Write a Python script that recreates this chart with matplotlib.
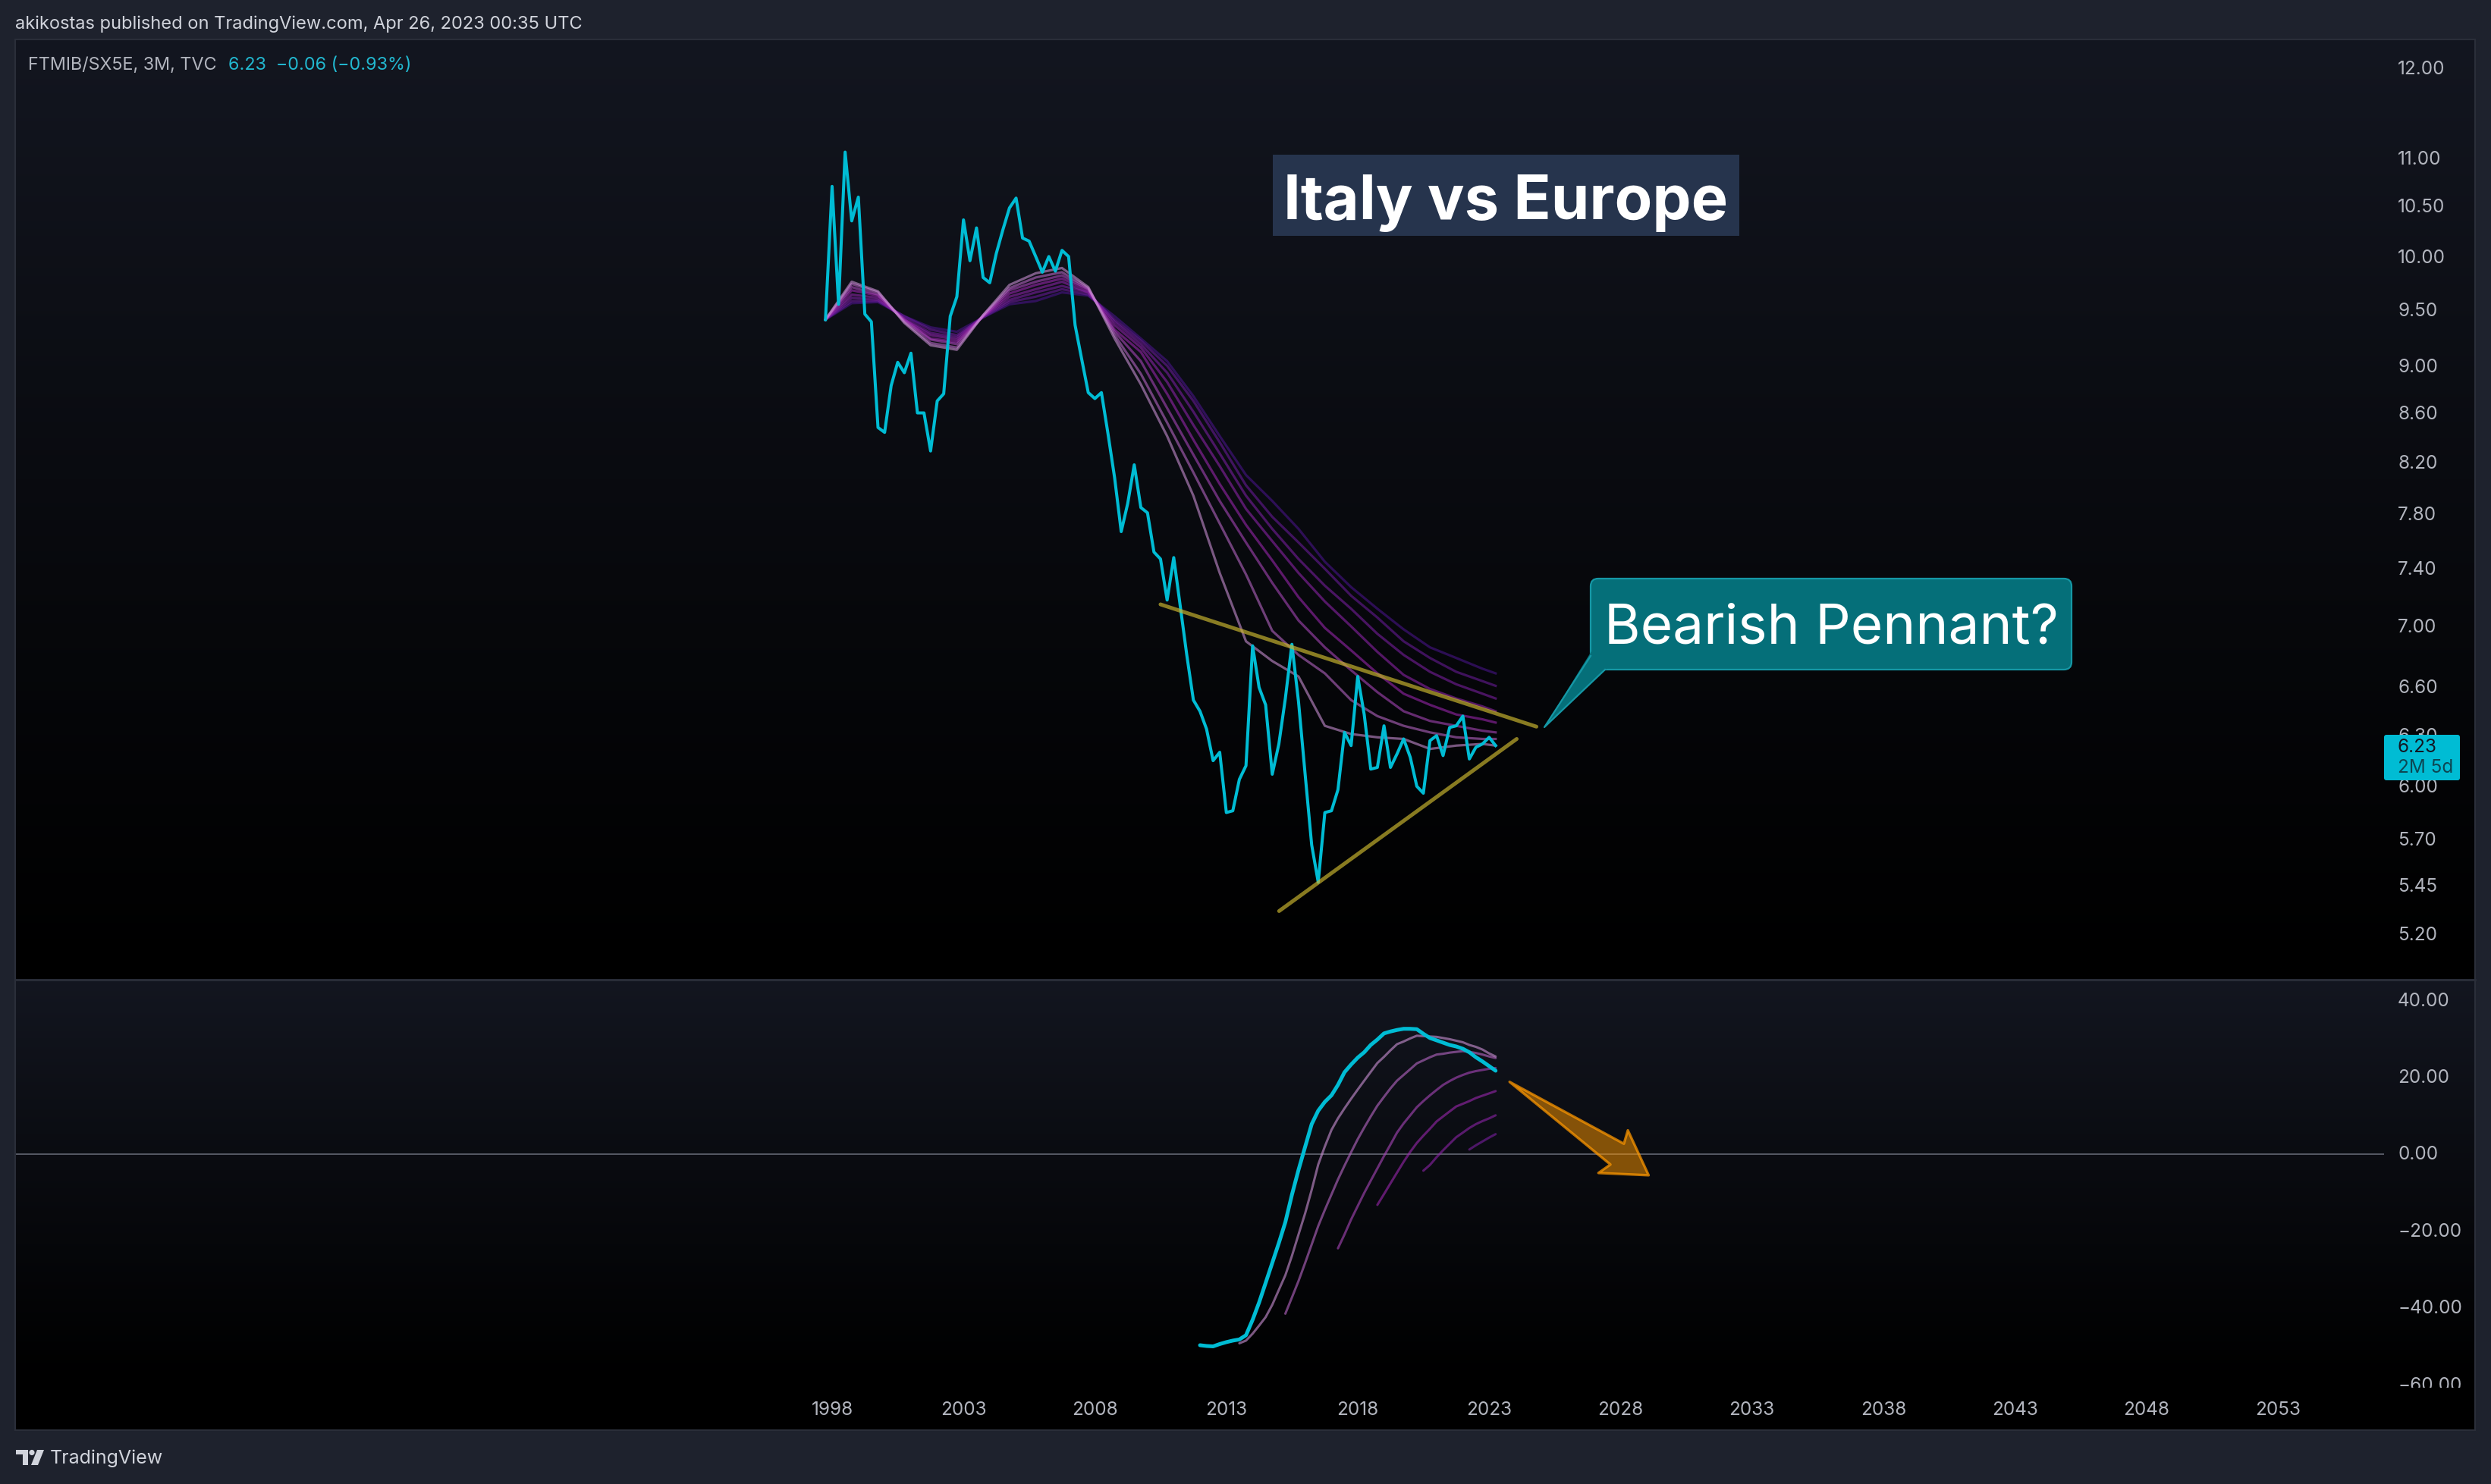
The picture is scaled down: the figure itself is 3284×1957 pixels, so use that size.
import numpy as np
import pandas as pd
import matplotlib
matplotlib.use("Agg")
import matplotlib.pyplot as plt
from matplotlib.patches import Polygon, FancyBboxPatch, Rectangle, Circle
from matplotlib.transforms import Bbox, TransformedBbox, blended_transform_factory
from matplotlib.ticker import FixedLocator, NullLocator, FuncFormatter
import matplotlib.dates as mdates

plt.rcParams['font.family'] = ['Inter', 'DejaVu Sans']

# ---------------- data ----------------
quarters = pd.date_range("1997-10-01", "2023-04-01", freq="QS")

ratio_close = [9.40, 10.69, 9.54, 11.05, 10.34, 10.58, 9.45, 9.38, 8.47, 8.43,
               8.82, 9.02, 8.93, 9.10, 8.59, 8.59, 8.28, 8.69, 8.75, 9.43,
               9.61, 10.35, 9.95, 10.27, 9.79, 9.74, 10.02, 10.25, 10.47, 10.57,
               10.17, 10.14, 9.99, 9.84, 9.99, 9.85, 10.05, 9.99, 9.35, 9.05,
               8.76, 8.71, 8.76, 8.42, 8.07, 7.66, 7.87, 8.17, 7.84, 7.80,
               7.51, 7.46, 7.17, 7.47, 7.13, 6.80, 6.51, 6.44, 6.33, 6.14,
               6.19, 5.84, 5.85, 6.03, 6.11, 6.86, 6.59, 6.48, 6.06, 6.24,
               6.52, 6.87, 6.50, 6.06, 5.66, 5.46, 5.84, 5.85, 5.97, 6.31,
               6.23, 6.66, 6.42, 6.09, 6.10, 6.35, 6.10, 6.18, 6.27, 6.16,
               5.99, 5.95, 6.26, 6.29, 6.17, 6.34, 6.35, 6.41, 6.15, 6.22,
               6.24, 6.28, 6.23]

# ribbon samples (quarter index into `quarters`)
ribbon_pos = [0, 4, 8, 12, 16, 20, 24, 28, 32, 36, 40, 44, 48, 52, 56, 60, 64,
              68, 72, 76, 80, 84, 88, 92, 96, 100, 102]
ribbon_1 = [9.40, 9.75, 9.66, 9.37, 9.17, 9.13, 9.44, 9.72, 9.83, 9.88, 9.70, 9.23, 8.83,
            8.40, 7.93, 7.36, 6.89, 6.76, 6.66, 6.35, 6.30, 6.28, 6.27, 6.21, 6.23, 6.24, 6.23]
ribbon_2 = [9.40, 9.73, 9.65, 9.38, 9.19, 9.15, 9.44, 9.69, 9.79, 9.84, 9.69, 9.26, 8.92,
            8.51, 8.11, 7.72, 7.35, 6.96, 6.80, 6.68, 6.51, 6.41, 6.35, 6.31, 6.28, 6.27, 6.27]
ribbon_3 = [9.40, 9.70, 9.63, 9.39, 9.22, 9.18, 9.43, 9.67, 9.75, 9.81, 9.68, 9.29, 9.03,
            8.63, 8.25, 7.89, 7.58, 7.29, 7.03, 6.85, 6.70, 6.56, 6.44, 6.38, 6.35, 6.32, 6.31]
ribbon_4 = [9.40, 9.67, 9.62, 9.40, 9.23, 9.20, 9.43, 9.64, 9.72, 9.78, 9.67, 9.31, 9.11,
            8.75, 8.37, 8.02, 7.71, 7.45, 7.19, 6.98, 6.83, 6.68, 6.55, 6.48, 6.42, 6.39, 6.37]
ribbon_5 = [9.40, 9.63, 9.60, 9.40, 9.26, 9.22, 9.43, 9.61, 9.68, 9.75, 9.65, 9.35, 9.15,
            8.85, 8.49, 8.16, 7.83, 7.59, 7.36, 7.16, 6.99, 6.82, 6.67, 6.58, 6.52, 6.47, 6.44]
ribbon_6 = [9.40, 9.60, 9.58, 9.41, 9.28, 9.24, 9.43, 9.58, 9.65, 9.71, 9.65, 9.38, 9.18,
            8.93, 8.60, 8.26, 7.93, 7.68, 7.46, 7.27, 7.11, 6.94, 6.80, 6.69, 6.61, 6.55, 6.52]
ribbon_7 = [9.40, 9.57, 9.57, 9.43, 9.31, 9.26, 9.42, 9.56, 9.61, 9.68, 9.63, 9.40, 9.21,
            8.99, 8.69, 8.35, 8.01, 7.77, 7.58, 7.39, 7.20, 7.05, 6.89, 6.78, 6.69, 6.63, 6.60]
ribbon_8 = [9.40, 9.55, 9.56, 9.43, 9.33, 9.29, 9.42, 9.54, 9.57, 9.65, 9.62, 9.43, 9.23,
            9.03, 8.73, 8.40, 8.09, 7.89, 7.68, 7.44, 7.26, 7.11, 6.97, 6.85, 6.78, 6.71, 6.68]

# oscillator pane (each series starts at the given quarter index)
osc_main_start = 57
osc_main = [-49.7, -49.9, -50.0, -49.4, -48.9, -48.5, -48.2, -47.1, -43.1, -38.6,
            -33.5, -28.3, -23.1, -17.7, -10.6, -4.1, 1.9, 7.8, 11.3, 13.6,
            15.3, 18.0, 21.3, 23.3, 25.1, 26.5, 28.4, 29.8, 31.4, 31.9,
            32.3, 32.6, 32.6, 32.5, 31.3, 30.2, 29.6, 29.0, 28.4, 28.0,
            27.4, 26.5, 25.2, 24.1, 22.9, 21.7]
osc_1_start = 63
osc_1 = [-49.2, -48.5, -46.7, -44.6, -42.4, -39.2, -35.3, -31.5, -26.5, -20.9,
         -15.4, -9.3, -2.7, 2.0, 6.3, 9.3, 11.9, 14.4, 16.8, 19.1,
         21.4, 23.7, 25.3, 27.0, 28.6, 29.3, 30.1, 30.8, 30.7, 30.6,
         30.5, 30.2, 29.9, 29.5, 29.1, 28.4, 27.9, 27.2, 26.2, 25.4]
osc_2_start = 70
osc_2 = [-41.5, -37.3, -33.0, -28.3, -23.5, -18.7, -14.5, -10.5, -6.6, -3.0,
         0.5, 3.9, 6.9, 9.8, 12.6, 14.9, 17.1, 19.1, 20.6, 22.1,
         23.6, 24.4, 25.2, 25.9, 26.1, 26.4, 26.6, 26.8, 26.6, 26.3,
         25.9, 25.4, 25.0]
osc_3_start = 78
osc_3 = [-24.5, -20.9, -17.0, -13.5, -10.1, -6.9, -3.7, -0.5, 2.5, 5.6,
         8.0, 10.1, 12.2, 13.8, 15.3, 16.7, 18.0, 19.0, 19.9, 20.6,
         21.2, 21.6, 21.9, 22.2, 22.4]
osc_4_start = 84
osc_4 = [-13.2, -10.4, -7.6, -4.8, -2.0, 0.6, 2.9, 4.8, 6.6, 8.5,
         9.8, 11.1, 12.4, 13.1, 13.8, 14.6, 15.2, 15.8, 16.4]
osc_5_start = 91
osc_5 = [-4.3, -2.8, -0.8, 1.0, 2.7, 4.4, 5.6, 6.8, 7.8, 8.6, 9.3, 10.1]
osc_6_start = 98
osc_6 = [1.2, 2.3, 3.3, 4.3, 5.2]

price_ticks = [12.00, 11.00, 10.50, 10.00, 9.50, 9.00, 8.60, 8.20, 7.80, 7.40,
               7.00, 6.60, 6.30, 6.00, 5.70, 5.45, 5.20]
osc_ticks = [40, 20, 0, -20, -40, -60]
year_ticks = [1998, 2003, 2008, 2013, 2018, 2023, 2028, 2033, 2038, 2043, 2048, 2053]

# drawings (data coordinates)
trend_upper_dates = ["2010-07-01", "2024-10-19"]
trend_upper_vals = [7.14, 6.345]
trend_lower_dates = ["2015-01-04", "2024-01-19"]
trend_lower_vals = [5.31, 6.27]
arrow_dates = ["2023-10-12", "2028-02-17", "2028-04-12", "2029-01-26", "2027-02-28", "2027-08-14"]
arrow_vals = [18.8, 2.7, 6.2, -5.5, -4.9, -2.7]

# ---------------- figure ----------------
W, H, DPI = 3284, 1958, 100
fig = plt.figure(figsize=(W / DPI, H / DPI), dpi=DPI)
fig.patch.set_facecolor('#1e222d')


def axrect(x0, y0, x1, y1):
    return [x0 / W, 1 - y1 / H, (x1 - x0) / W, (y1 - y0) / H]


# background gradient for chart area
bg = fig.add_axes([0, 0, 1, 1], zorder=0)
bg.set_xlim(0, W)
bg.set_ylim(H, 0)
bg.axis('off')
rows = np.arange(53, 1887)
top_c = np.array([19, 22, 32]) / 255.0
col = np.zeros((len(rows), 1, 3))
for k, yy in enumerate(rows):
    if yy < 1292:
        t = (yy - 53) / (1292 - 53)
    elif yy < 1831:
        t = (yy - 1292) / (1831 - 1292)
    else:
        t = 1.0
    col[k, 0, :] = top_c * (1 - t) ** 1.1
bg.imshow(col, extent=(20, 3263, 1887, 53), aspect='auto', interpolation='bilinear')

xmin, xmax = pd.Timestamp("1966-12-02"), pd.Timestamp("2057-01-19")

# ---- main pane ----
ax = fig.add_axes(axrect(20, 53, 3143, 1292), zorder=2)
ax.set_facecolor('none')
for s in ax.spines.values():
    s.set_visible(False)

ribbons = [ribbon_8, ribbon_7, ribbon_6, ribbon_5, ribbon_4, ribbon_3, ribbon_2, ribbon_1]
rib_cols = ['#4a148c', '#6a1b9a', '#7b1fa2', '#8e24aa', '#9c27b0', '#ab47bc', '#ba68c8', '#ce93d8']
rx = quarters[ribbon_pos]
for vals, c in zip(ribbons, rib_cols):
    ax.plot(rx, vals, color=c, alpha=0.58, lw=2.3, zorder=3, solid_joinstyle='round')

ax.plot(quarters, ratio_close, color='#00bcd4', lw=2.9, zorder=5, solid_joinstyle='round')

for d, v in ((trend_upper_dates, trend_upper_vals), (trend_lower_dates, trend_lower_vals)):
    ax.plot(pd.to_datetime(d), v, color='#c9b52f', alpha=0.68, lw=3.6,
            solid_capstyle='round', zorder=6)

ax.set_yscale('log')
ax.set_ylim(4.973, 12.32)
ax.set_xlim(xmin, xmax)
ax.yaxis.set_major_locator(FixedLocator(price_ticks))
ax.yaxis.set_minor_locator(NullLocator())
ax.yaxis.set_major_formatter(FuncFormatter(lambda v, p: f"{v:.2f}"))
ax.yaxis.set_minor_formatter(FuncFormatter(lambda v, p: ""))
ax.yaxis.tick_right()
ax.tick_params(axis='y', length=0, pad=13, labelsize=17.5, labelcolor='#b2b5be')
ax.tick_params(axis='x', bottom=False, labelbottom=False)

# ---- oscillator pane ----
ax2 = fig.add_axes(axrect(20, 1292, 3143, 1831), zorder=2)
ax2.set_facecolor('none')
for s in ax2.spines.values():
    s.set_visible(False)
ax2.set_xlim(xmin, xmax)
ax2.set_ylim(-60.75, 45.56)
ax2.axhline(0, color='#5d606b', lw=1.3, zorder=1)

osc_sets = [(osc_6_start, osc_6, '#7b1fa2'), (osc_5_start, osc_5, '#8e24aa'),
            (osc_4_start, osc_4, '#9c27b0'), (osc_3_start, osc_3, '#ab47bc'),
            (osc_2_start, osc_2, '#ba68c8'), (osc_1_start, osc_1, '#ce93d8')]
for st, vals, c in osc_sets:
    ax2.plot(quarters[st:st + len(vals)], vals, color=c, alpha=0.6, lw=2.2,
             zorder=3, solid_capstyle='round')
ax2.plot(quarters[osc_main_start:osc_main_start + len(osc_main)], osc_main,
         color='#00bcd4', lw=3.6, zorder=5, solid_capstyle='round', solid_joinstyle='round')

arrow_xy = list(zip(mdates.date2num(pd.to_datetime(arrow_dates)), arrow_vals))
ax2.add_patch(Polygon(arrow_xy, closed=True, facecolor=(1.0, 0.596, 0.0, 0.5),
                      edgecolor=(1.0, 0.596, 0.0, 0.72), lw=2.4, joinstyle='round', zorder=6))

ax2.set_yticks([])
tr = blended_transform_factory(ax2.transAxes, ax2.transData)
clipbox = TransformedBbox(Bbox.from_extents(0, 0, 1.2, 1), ax2.transAxes)
for v in osc_ticks:
    t = ax2.text(1.0 + 18 / 3123, v, f"{v:.2f}".replace('-', '\u2212'), transform=tr,
                 ha='left', va='center', fontsize=17.5, color='#b2b5be')
    t.set_clip_on(True)
    t.set_clip_box(clipbox)

ax2.set_xticks([pd.Timestamp(f"{y}-01-01") for y in year_ticks])
ax2.set_xticklabels([str(y) for y in year_ticks])
ax2.tick_params(axis='x', length=0, pad=12, labelsize=17.5, labelcolor='#b2b5be')

# ---- overlay: texts and drawings ----
ov = fig.add_axes([0, 0, 1, 1], zorder=5)
ov.set_xlim(0, W)
ov.set_ylim(H, 0)
ov.axis('off')

ov.add_patch(Rectangle((20, 53), 3243, 1834, fill=False, ec='#2a2e39', lw=1.5))
ov.plot([20, 3263], [1292.5, 1292.5], color='#2a2e39', lw=2)

ov.text(20, 32, "akikostas published on TradingView.com, Apr 26, 2023 00:35 UTC",
        ha='left', va='center', fontsize=17, color='#d1d4dc')
ov.text(37, 86, "FTMIB/SX5E, 3M, TVC", ha='left', va='center', fontsize=16.8, color='#b2b5be')
ov.text(301, 86, "6.23  \u22120.06 (\u22120.93%)", ha='left', va='center', fontsize=16.8,
        color='#22b8d0')

# title box
ov.add_patch(Rectangle((1678, 205), 615, 107, fc='#26344d', ec='none'))
ov.text(1985, 289, "Italy vs Europe", ha='center', va='baseline', fontsize=58.5,
        fontweight='bold', color='white')

# callout
teal, teal_e = '#056f79', '#1597a5'
ov.add_patch(FancyBboxPatch((2097, 764), 634, 120, boxstyle='round,pad=0,rounding_size=10',
                            fc=teal, ec=teal_e, lw=1.6))
ov.add_patch(Polygon([(2098, 860), (2036, 960), (2118, 883)], closed=True, fc=teal, ec='none'))
ov.plot([2097, 2036, 2116], [866, 960, 884], color=teal_e, lw=1.6)
ov.text(2414, 849, "Bearish Pennant?", ha='center', va='baseline', fontsize=52.5, color='white')

# last price label
ov.add_patch(FancyBboxPatch((3143, 970), 100, 60, boxstyle='round,pad=0,rounding_size=3',
                            fc='#00bcd4', ec='none'))
ov.text(3161, 986, "6.23", ha='left', va='center', fontsize=17.5, color='#131722')
ov.text(3161, 1013, "2M 5d", ha='left', va='center', fontsize=17.5, color='#0d4753')

# footer logo
ov.add_patch(Rectangle((21, 1913), 16, 6, fc='#d1d4dc', ec='none'))
ov.add_patch(Rectangle((30, 1913), 7, 20, fc='#d1d4dc', ec='none'))
ov.add_patch(Circle((42, 1916.5), 3.6, fc='#d1d4dc', ec='none'))
ov.add_patch(Polygon([(49, 1913), (58, 1913), (50, 1933), (41, 1933)], closed=True,
                     fc='#d1d4dc', ec='none'))
ov.text(66, 1923, "TradingView", ha='left', va='center', fontsize=18, color='#d1d4dc')

fig.savefig("out.png", dpi=DPI, facecolor=fig.get_facecolor())
